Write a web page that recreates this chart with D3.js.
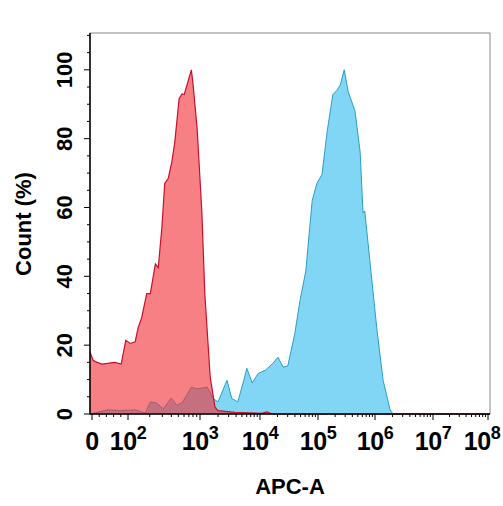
<!DOCTYPE html>
<html><head><meta charset="utf-8">
<script src="https://cdn.jsdelivr.net/npm/d3@7"></script>
<style>body{margin:0;background:#fff}text{font-family:Arial,"Liberation Sans",sans-serif;font-weight:bold}</style>
</head><body><svg id="c" width="503" height="506"></svg>
<script>
// x positions in display decades: 1 = "0", 2 = 10^2, 3 = 10^3, ...
const redX = [0.94,1.03,1.14,1.28,1.64,1.81,1.94,2.03,2.10,2.14,2.19,2.26,2.31,2.38,2.42,2.47,2.51,2.56,2.61,2.65,2.71,2.75,2.78,2.82,2.88,2.90,2.96,3.03,3.08,3.17,3.25,3.30,3.58,3.83,4.03,4.12,4.21,8.15];
const redY = [18,15.6,15,14.5,15,14.5,21.4,20.5,21,25,28,35,35,43.6,42.5,54,67,68.5,73.4,79,91.6,93,92.8,95.6,100,96.5,83,59,35,10.7,2,1,0.5,0.3,0.2,0.6,0,0];
const blueX = [0.94,1.44,1.83,2.10,2.24,2.31,2.40,2.49,2.60,2.68,2.76,2.88,2.96,3.12,3.22,3.30,3.45,3.53,3.63,3.73,3.78,3.87,3.97,4.09,4.22,4.31,4.40,4.48,4.60,4.69,4.79,4.90,4.98,5.07,5.16,5.26,5.33,5.39,5.46,5.53,5.65,5.74,5.79,5.82,5.91,6.03,6.14,6.26,6.31,8.15];
const blueY = [0,1.2,1,1.2,0.3,3.5,3.2,1.5,4.6,2.5,3.5,7.8,7.3,7.8,4.5,3.5,9.8,4.5,3.5,9.8,13.3,9,11.8,12.7,14.7,16.5,13.6,14,23.4,33,41.6,62,67,69.6,82,92.8,94,95.6,100,93.6,88,76,58.4,59,44.5,25,9.8,1.2,0,0];
const xTickPos = [1,2,3,4,5,6,7,8];
const xTickExp = [null,2,3,4,5,6,7,8];
const yTicks = [0,20,40,60,80,100];

const svg = d3.select("#c");
const L=90,R=490,T=33,B=414;
const x = d3.scaleLinear().domain([0.94,1,2,3,4,5,6,7,8,8.04]).range([90,92,128,200,260,318,375,433,488,490]).clamp(true);
const y = d3.scaleLinear().domain([0,110.7]).range([B,T]);

const area = (xs,ys)=>d3.area().x((d,i)=>x(xs[i])).y0(B).y1((d,i)=>y(ys[i])).curve(d3.curveLinear)(ys);
const line = (xs,ys)=>d3.line().x((d,i)=>x(xs[i])).y((d,i)=>y(ys[i]))(ys);

svg.append("rect").attr("x",L).attr("y",T).attr("width",R-L).attr("height",B-T).attr("fill","none").attr("stroke","#888").attr("stroke-width",1);
svg.append("path").attr("d",area(blueX,blueY)).attr("fill","#80d6f4");
svg.append("path").attr("d",line(blueX,blueY)).attr("fill","none").attr("stroke","#2a9fc6").attr("stroke-width",1);
svg.append("path").attr("d",area(redX,redY)).attr("fill","rgb(240,50,55)").attr("fill-opacity",0.62);
svg.append("path").attr("d",line(redX,redY)).attr("fill","none").attr("stroke","#c8102e").attr("stroke-width",1.2);

svg.append("line").attr("x1",L).attr("x2",L).attr("y1",T).attr("y2",B).attr("stroke","#000").attr("stroke-width",1.5);
svg.append("line").attr("x1",L).attr("x2",R).attr("y1",B).attr("y2",B).attr("stroke","#000").attr("stroke-width",1.5);
for(let v=0;v<=110;v+=5){
  const maj=v%20===0;
  svg.append("line").attr("x1",L-(maj?6:3)).attr("x2",L).attr("y1",y(v)).attr("y2",y(v)).attr("stroke","#000").attr("stroke-width",1);
}
yTicks.forEach(v=>{
  svg.append("text").attr("transform",`translate(72,${y(v)}) rotate(-90)`).attr("text-anchor","middle").attr("font-size",22).text(v);
});
xTickPos.forEach(p=>svg.append("line").attr("x1",x(p)).attr("x2",x(p)).attr("y1",B).attr("y2",B+6).attr("stroke","#000"));
for(let d=2;d<8;d++){for(let k=2;k<10;k++){const p=d+Math.log10(k);svg.append("line").attr("x1",x(p)).attr("x2",x(p)).attr("y1",B).attr("y2",B+3).attr("stroke","#000");}}
for(let k=1;k<5;k++){const p=1+k*0.2;svg.append("line").attr("x1",x(p)).attr("x2",x(p)).attr("y1",B).attr("y2",B+3).attr("stroke","#000");}
xTickPos.forEach((p,i)=>{
  const t=svg.append("text").attr("x",x(p)-(i===7?6:0)).attr("y",B+36).attr("text-anchor","middle").attr("font-size",25).attr("letter-spacing",-0.5);
  if(xTickExp[i]===null){t.text("0");}
  else{t.append("tspan").text("10");t.append("tspan").attr("dy",-11).attr("font-size",18).text(xTickExp[i]);}
});
svg.append("text").attr("x",290).attr("y",494).attr("text-anchor","middle").attr("font-size",22).text("APC-A");
svg.append("text").attr("transform","translate(31,224) rotate(-90)").attr("text-anchor","middle").attr("font-size",22).text("Count (%)");
</script></body></html>
